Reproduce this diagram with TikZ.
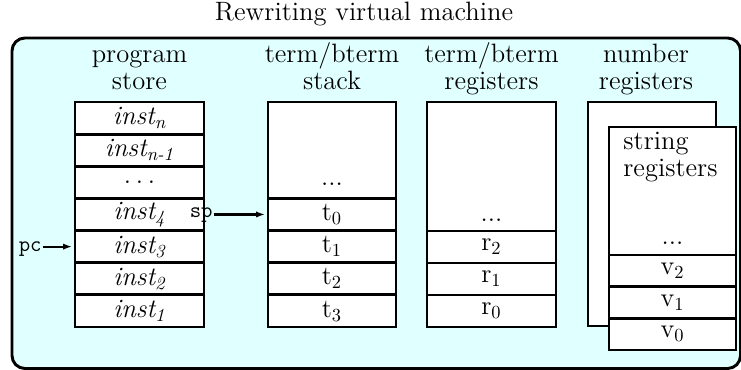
\documentclass[tikz,border=0pt]{standalone}
\usetikzlibrary{arrows.meta}
\definecolor{paneFill}{RGB}{224,255,255}
\begin{document}
\begin{tikzpicture}[x=0.542pt,y=-0.542pt,
  frame/.style={draw=black, fill=paneFill, line width=1.6pt, rounded corners=7pt},
  cell/.style={draw=black, fill=white, line width=1.6pt, inner sep=0pt, font=\Large},
  lbl/.style={anchor=base, inner sep=0pt, font=\Large},
  ptr/.style={line width=1.1pt, -{Latex[length=4.8pt,width=3.4pt]}},
  ttl/.style={anchor=base, inner sep=0pt, font=\Large}]
\useasboundingbox (0,0) rectangle (741,370);
\def\u{0.542pt}
% outer frame and title
\path[frame] (12,38) rectangle (740.5,368.5);
\node[ttl] (title) at (364,21) {Rewriting virtual machine};
% column labels
\node[lbl] (psA) at (139.5,63) {program};
\node[lbl] (psB) at (139.5,90) {store};
\node[lbl] (tsA) at (332,63) {term/bterm};
\node[lbl] (tsB) at (332,90) {stack};
\node[lbl] (trA) at (491.5,63) {term/bterm};
\node[lbl] (trB) at (491.5,90) {registers};
\node[lbl] (nrA) at (646,63) {number};
\node[lbl] (nrB) at (646,90) {registers};
% program store
\foreach \nm/\yc/\tx in {in/118.07/{\itshape inst\textsubscript{n}},
                         inm/150.21/{\itshape inst\textsubscript{n-1}},
                         idots/182.36/{.\kern2.6pt.\kern2.6pt.},
                         ifour/214.5/{\itshape inst\textsubscript{4}},
                         ithree/246.64/{\itshape inst\textsubscript{3}},
                         itwo/278.79/{\itshape inst\textsubscript{2}},
                         ione/310.93/{\itshape inst\textsubscript{1}}}
  \node[cell, minimum width=129*\u, minimum height=32.14*\u] (\nm) at (139.5,\yc) {\tx};
% stack
\node[cell, minimum width=128*\u, minimum height=96*\u] (stk) at (332,150) {};
\node[lbl] (stkdots) at (332,186) {...};
\foreach \nm/\yc/\tx in {tzero/214.5/{t$_0$}, tone/246.64/{t$_1$},
                         ttwo/278.79/{t$_2$}, tthree/310.93/{t$_3$}}
  \node[cell, minimum width=128*\u, minimum height=32.14*\u] (\nm) at (332,\yc) {\tx};
% term registers
\node[cell, minimum width=129*\u, minimum height=129*\u] (reg) at (491.5,166.5) {};
\node[lbl] (regdots) at (491.5,222) {...};
\foreach \nm/\yc/\tx in {rtwo/247/{r$_2$}, rone/279/{r$_1$}, rzero/311/{r$_0$}}
  \node[cell, minimum width=129*\u, minimum height=32*\u] (\nm) at (491.5,\yc) {\tx};
% number registers (back) and string registers (front)
\node[cell, minimum width=128*\u, minimum height=224*\u] (num) at (652,214) {};
\node[cell, minimum width=127*\u, minimum height=128*\u] (str) at (672.5,191) {};
\node[lbl, anchor=base west] (strA) at (623,150) {string};
\node[lbl, anchor=base west] (strB) at (623,177) {registers};
\node[lbl] (strdots) at (672.5,245) {...};
\foreach \nm/\yc/\tx in {vtwo/270.83/{v$_2$}, vone/302.5/{v$_1$}, vzero/334.17/{v$_0$}}
  \node[cell, minimum width=127*\u, minimum height=31.67*\u] (\nm) at (672.5,\yc) {\tx};
% pointers
\node[anchor=base east, inner sep=0pt, font=\large\ttfamily] (pc) at (42,252) {pc};
\node[anchor=base east, inner sep=0pt, font=\large\ttfamily] (sp) at (213,218) {sp};
\draw[ptr] ([xshift=0.6pt]pc.east |- ithree.west) -- ([xshift=-0.8pt]ithree.west);
\draw[ptr] ([xshift=0.6pt]sp.east |- tzero.west) -- ([xshift=-0.8pt]tzero.west);
\end{tikzpicture}
\end{document}
